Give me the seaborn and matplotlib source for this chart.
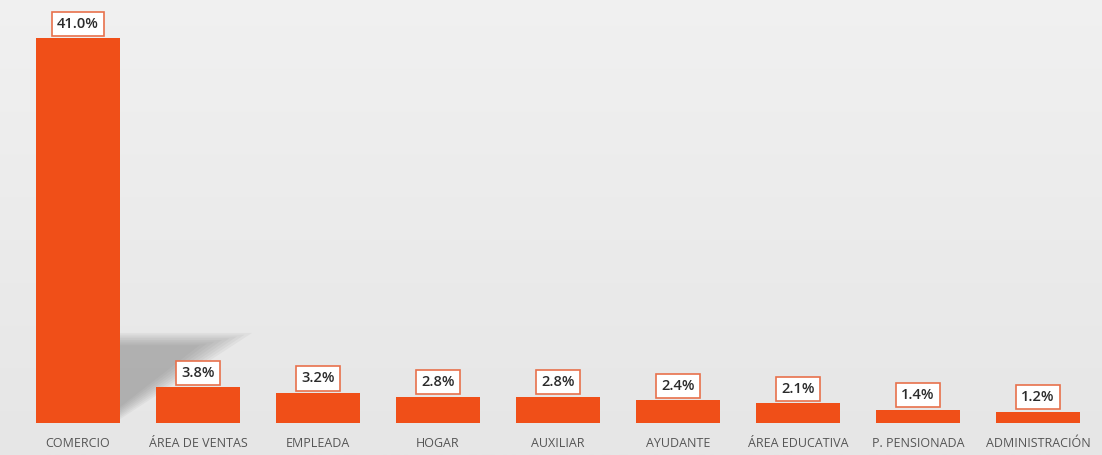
import numpy as np
import pandas as pd
import matplotlib.pyplot as plt
import seaborn as sns

categories = ['COMERCIO', 'ÁREA DE VENTAS', 'EMPLEADA', 'HOGAR', 'AUXILIAR',
              'AYUDANTE', 'ÁREA EDUCATIVA', 'P. PENSIONADA', 'ADMINISTRACIÓN']
values = [41.0, 3.8, 3.2, 2.8, 2.8, 2.4, 2.1, 1.4, 1.2]
labels = ['41.0%', '3.8%', '3.2%', '2.8%', '2.8%', '2.4%', '2.1%', '1.4%', '1.2%']

df = pd.DataFrame({'cat': categories, 'val': values})

sns.set_theme(style='white')
plt.rcParams['font.family'] = ['Open Sans', 'DejaVu Sans']

fig = plt.figure(figsize=(11.02, 4.55), dpi=100)

# soft grey background gradient
bg = fig.add_axes([0, 0, 1, 1], zorder=-1)
grad = np.linspace(0, 1, 256).reshape(-1, 1)
bg.imshow(grad, aspect='auto', cmap=sns.light_palette('#e6e6e6', as_cmap=True),
          extent=[0, 1, 0, 1], origin='upper', vmin=0.0, vmax=1.0)
bg.axis('off')

ax = fig.add_axes([18 / 1102, 32 / 455, 1080 / 1102, 408 / 455])
ax.patch.set_alpha(0)
sns.barplot(data=df, x='cat', y='val', color='#f04f18', width=0.7,
            saturation=1, linewidth=0, ax=ax, zorder=3)

# blurred shadow cast behind the first bar
for k in range(8):
    s = k / 8
    ax.fill([0.35, 1.45 - 0.5 * s, 0.35], [9.6 - 1.5 * s, 9.6 - 1.5 * s, 0.4 + 1.5 * s],
            color='#6f6f6f', alpha=0.07, lw=0, zorder=1)

for i, (v, t) in enumerate(zip(values, labels)):
    ax.text(i, v + 0.8, t, ha='center', va='bottom', fontsize=10.5,
            color='#2b2b2b', fontweight='semibold', clip_on=False,
            bbox=dict(boxstyle='square,pad=0.35', fc='white', ec='#e8714c', lw=1.2))

ax.set_xlim(-0.5, 8.5)
ax.set_ylim(0, 43.5)
ax.set_xlabel('')
ax.set_ylabel('')
ax.set_yticks([])
ax.tick_params(axis='x', length=0, labelsize=9, labelcolor='#555555', pad=10)
sns.despine(ax=ax, left=True, bottom=True)

fig.savefig('out.png', dpi=100)
